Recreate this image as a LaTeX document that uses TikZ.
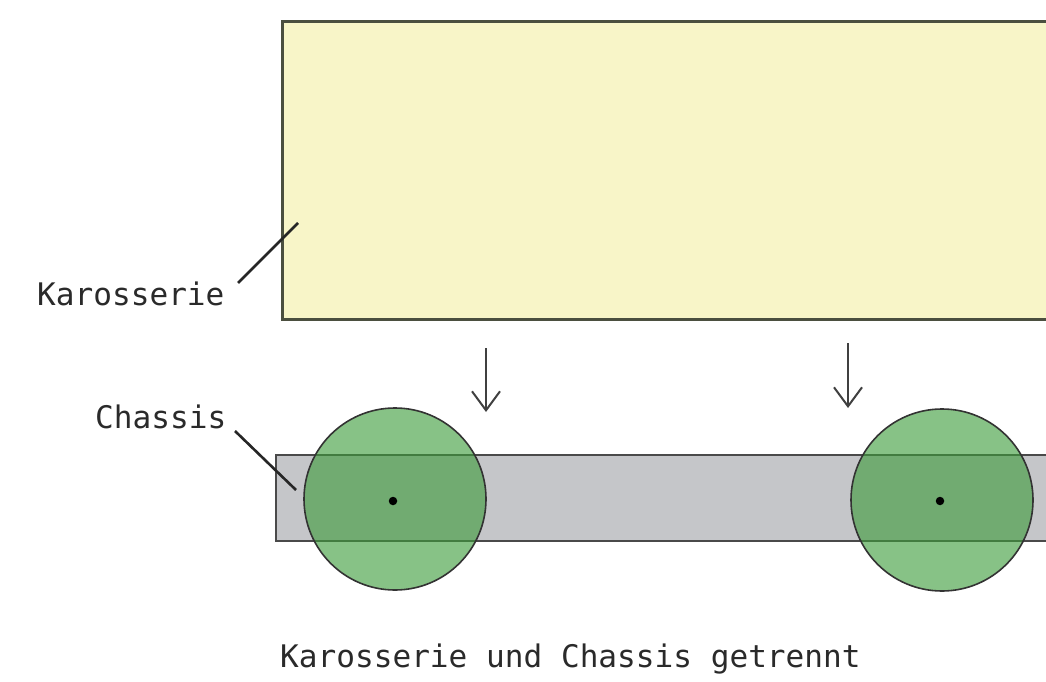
\documentclass[tikz,border=0pt]{standalone}
\usepackage{fontspec}
\setmonofont{DejaVu Sans Mono}
\usetikzlibrary{arrows.meta}
\definecolor{bodyfill}{HTML}{F8F5C8}
\definecolor{bodyline}{HTML}{4B4F3F}
\definecolor{chfill}{HTML}{C5C6C9}
\definecolor{chline}{HTML}{4A4A4A}
\definecolor{wheelc}{RGB}{62,156,59}
\definecolor{txt}{HTML}{2A2A2A}
\tikzset{
  lbl/.style={font=\ttfamily\fontsize{31.1}{36}\selectfont, text=txt, inner sep=0pt, anchor=base west},
  leader/.style={line width=2.6pt, draw=black!85},
  drop/.style={line width=2pt, draw=black!75, -{Straight Barb[length=19pt,width=28pt,line width=2pt]}},
  wheelstyle/.style={circle, minimum size=182pt, inner sep=0pt, fill=wheelc, fill opacity=0.62, draw=black!80, draw opacity=1, line width=1.6pt},
  hub/.style={circle, fill=black, minimum size=8.5pt, inner sep=0pt}
}
\begin{document}
\begin{tikzpicture}[x=1pt,y=-1pt]
\useasboundingbox (0,0) rectangle (1046,682);
% body
\path[fill=bodyfill] (282,22) rectangle (1060,319);
\draw[bodyline, line width=3pt] (1060,22) -- (282,22) -- (282,319) -- (1060,319);
\coordinate (bodyin) at (298,223);
% chassis
\path[fill=chfill] (276,455) rectangle (1060,541);
\draw[chline, line width=2.5pt] (1060,455) -- (276,455) -- (276,541) -- (1060,541);
\coordinate (chassin) at (296,490);
% wheels
\node[wheelstyle] (w1) at (395,499) {};
\node[wheelstyle] (w2) at (942,500) {};
\node[hub] (h1) at (393,501) {};
\node[hub] (h2) at (940,501) {};
% arrows
\coordinate (a1s) at (486,348);
\coordinate (a1e) at (486,412);
\coordinate (a2s) at (848,343);
\coordinate (a2e) at (848,408);
\draw[drop] (a1s) -- (a1e);
\draw[drop] (a2s) -- (a2e);
% labels
\node[lbl] (kar) at (37,305) {Karosserie};
\node[lbl] (cha) at (95,428) {Chassis};
\coordinate (karend) at (238,283);
\coordinate (chaend) at (235,431);
\draw[leader] (karend) -- (bodyin);
\draw[leader] (chaend) -- (chassin);
\node[lbl] (cap) at (280,667) {Karosserie und Chassis getrennt};
\end{tikzpicture}
\end{document}
